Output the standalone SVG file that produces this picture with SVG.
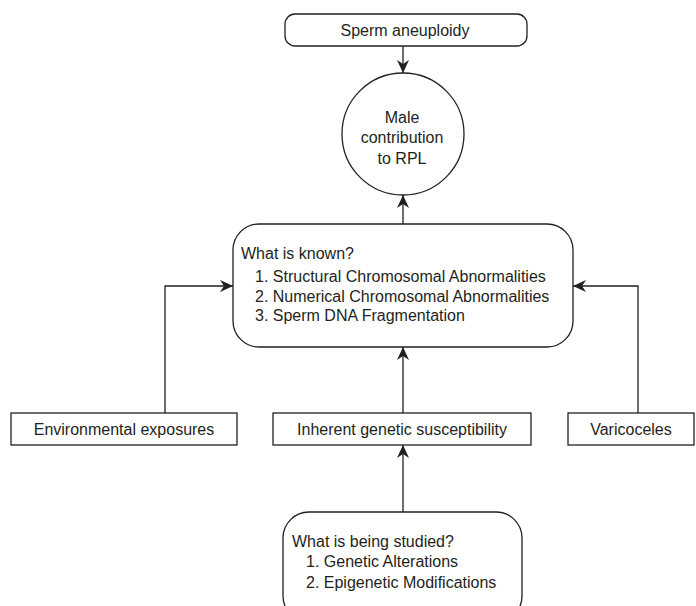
<svg xmlns="http://www.w3.org/2000/svg" width="696" height="606" viewBox="0 0 696 606">
<style>
.box{fill:#fff;stroke:#231f20;stroke-width:1.3}
.t{font-family:"Liberation Sans",Arial,sans-serif;font-size:16px;fill:#231f20}
.c{text-anchor:middle}
.ln{fill:none;stroke:#231f20;stroke-width:1.3}
</style>
<defs>
<marker id="ah" markerUnits="userSpaceOnUse" markerWidth="14" markerHeight="12" refX="13" refY="6" orient="auto">
<path d="M0,0 L13,6 L0,12 L4,6 z" fill="#231f20"/>
</marker>
</defs>
<g id="connectors">
<line class="ln" x1="403" y1="46" x2="403" y2="73" marker-end="url(#ah)"/>
<line class="ln" x1="403" y1="224" x2="403" y2="195" marker-end="url(#ah)"/>
<polyline class="ln" points="165,413 165,286 233,286" marker-end="url(#ah)"/>
<polyline class="ln" points="638,413 638,286 573,286" marker-end="url(#ah)"/>
<line class="ln" x1="403" y1="413" x2="403" y2="347" marker-end="url(#ah)"/>
<line class="ln" x1="403" y1="512" x2="403" y2="445" marker-end="url(#ah)"/>
</g>
<g id="sperm-aneuploidy">
<rect class="box" x="285" y="14" width="242" height="32" rx="10"/>
<text class="t c" x="405" y="36">Sperm aneuploidy</text>
</g>
<g id="male-contribution">
<circle class="box" cx="403" cy="134" r="61"/>
<text class="t c" x="402" y="123">Male</text>
<text class="t c" x="402" y="143">contribution</text>
<text class="t c" x="402" y="164">to RPL</text>
</g>
<g id="what-is-known">
<rect class="box" x="233" y="224" width="340" height="123" rx="26"/>
<text class="t" x="241" y="259">What is known?</text>
<text class="t" x="255" y="282">1. Structural Chromosomal Abnormalities</text>
<text class="t" x="255" y="302">2. Numerical Chromosomal Abnormalities</text>
<text class="t" x="255" y="321">3. Sperm DNA Fragmentation</text>
</g>
<g id="environmental">
<rect class="box" x="11" y="413" width="226" height="32"/>
<text class="t c" x="124" y="435">Environmental exposures</text>
</g>
<g id="inherent">
<rect class="box" x="273" y="413" width="258" height="32"/>
<text class="t c" x="402" y="435">Inherent genetic susceptibility</text>
</g>
<g id="varicoceles">
<rect class="box" x="568" y="413" width="126" height="32"/>
<text class="t c" x="631" y="435">Varicoceles</text>
</g>
<g id="what-is-being-studied">
<rect class="box" x="283" y="512" width="239" height="110" rx="26"/>
<text class="t" x="292" y="547">What is being studied?</text>
<text class="t" x="306" y="567">1. Genetic Alterations</text>
<text class="t" x="306" y="588">2. Epigenetic Modifications</text>
</g>
</svg>
